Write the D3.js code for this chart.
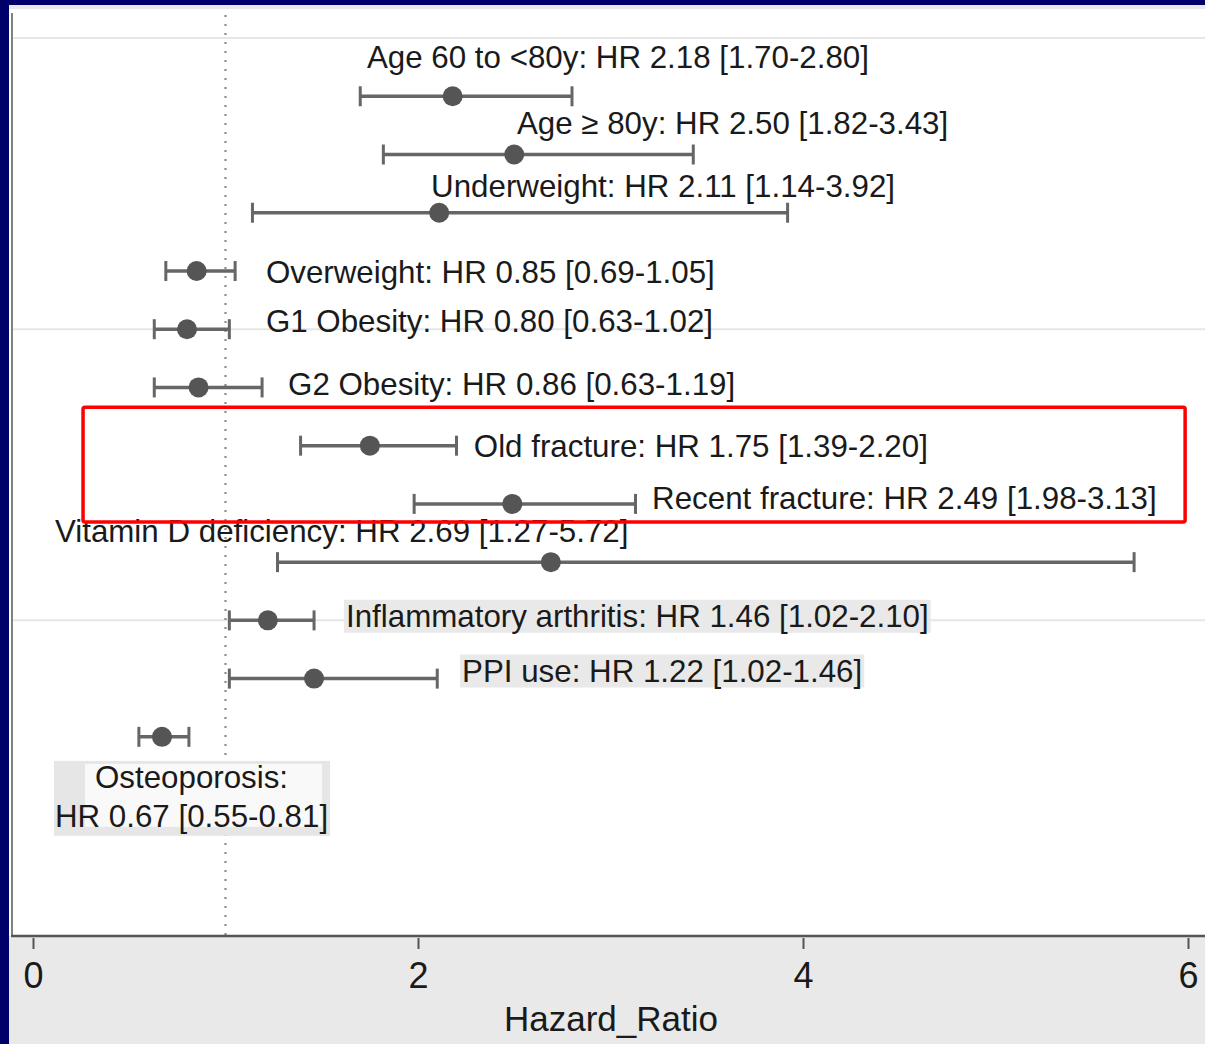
<!DOCTYPE html>
<html>
<head>
<meta charset="utf-8">
<script src="https://cdn.jsdelivr.net/npm/d3@7"></script>
<style>
  html, body { margin: 0; padding: 0; background: #00006a; }
  svg { display: block; }
  text { font-family: "Liberation Sans", Arial, Helvetica, sans-serif; fill: #1a1a1a; }
</style>
</head>
<body>
<svg id="chart" width="1205" height="1044"></svg>
<script>
// ---- data ----
const labels = [
  "Age 60 to <80y: HR 2.18 [1.70-2.80]",
  "Age \u2265 80y: HR 2.50 [1.82-3.43]",
  "Underweight: HR 2.11 [1.14-3.92]",
  "Overweight: HR 0.85 [0.69-1.05]",
  "G1 Obesity: HR 0.80 [0.63-1.02]",
  "G2 Obesity: HR 0.86 [0.63-1.19]",
  "Old fracture: HR 1.75 [1.39-2.20]",
  "Recent fracture: HR 2.49 [1.98-3.13]",
  "Vitamin D deficiency: HR 2.69 [1.27-5.72]",
  "Inflammatory arthritis: HR 1.46 [1.02-2.10]",
  "PPI use: HR 1.22 [1.02-1.46]",
  "Osteoporosis:|HR 0.67 [0.55-0.81]"
];
const rows  = [1, 2, 3, 4, 5, 6, 7, 8, 9, 10, 11, 12];
const hr    = [2.18, 2.50, 2.11, 0.85, 0.80, 0.86, 1.75, 2.49, 2.69, 1.22, 1.46, 0.67];
const ciLow = [1.70, 1.82, 1.14, 0.69, 0.63, 0.63, 1.39, 1.98, 1.27, 1.02, 1.02, 0.55];
const ciHigh= [2.80, 3.43, 3.92, 1.05, 1.02, 1.19, 2.20, 3.13, 5.72, 1.46, 2.10, 0.81];
const xTicks = [0, 2, 4, 6];
const yGrid  = [0, 5, 10];
const refLine = 1;
const xTitle = "Hazard_Ratio";
// label anchors in data units: [x value, row value of baseline]
const labelAt = [
  [1.735, 0.515], [2.514, 1.648], [2.068, 2.73], [1.21, 4.206],
  [1.21, 5.047], [1.325, 6.129], [2.29, 7.19], [3.216, 8.086],
  [0.114, 8.65], [1.626, 10.11], [2.229, 11.05], [0.322, 12.876]
];
const osteoLine2At = [0.114, 13.545];
const shadedLabels = [9, 10];   // labels drawn on a grey box
const highlightBox = { x0: 0.26, x1: 5.985, y0: 6.34, y1: 8.31 };

// ---- layout ----
const svg = d3.select("#chart");
const W = 1205, H = 1044;
const x = d3.scaleLinear().domain([0, 6]).range([33, 1188]);
const y = d3.scaleLinear().domain([-0.43, 15.42]).range([13, 936]);
const FS = 31.3;

// backgrounds
svg.append("rect").attr("x", 9).attr("y", 5).attr("width", W - 9).attr("height", H - 5).attr("fill", "#e9e9e9");
svg.append("rect").attr("x", 9).attr("y", 9).attr("width", W - 9).attr("height", 936 - 9).attr("fill", "#ffffff");

// gridlines
svg.append("g").selectAll("line").data(yGrid).join("line")
  .attr("x1", 13).attr("x2", W).attr("y1", d => y(d)).attr("y2", d => y(d))
  .attr("stroke", "#e6e6e6").attr("stroke-width", 2);

// reference line
svg.append("line").attr("x1", x(refLine)).attr("x2", x(refLine))
  .attr("y1", 15).attr("y2", 936)
  .attr("stroke", "#8c8c8c").attr("stroke-width", 2.2).attr("stroke-dasharray", "2,7");

// left axis line
svg.append("line").attr("x1", 12).attr("x2", 12).attr("y1", 13).attr("y2", 936)
  .attr("stroke", "#808080").attr("stroke-width", 2);

// x axis
const xAxis = d3.axisBottom(x).tickValues(xTicks).tickFormat(d3.format("d")).tickSize(13).tickPadding(12);
const gx = svg.append("g").attr("transform", "translate(0,936)").call(xAxis);
gx.select(".domain").attr("d", `M11,0H${W}`).attr("stroke", "#555").attr("stroke-width", 2.5);
gx.selectAll(".tick line").attr("stroke", "#555").attr("stroke-width", 2).attr("y1", 2);
gx.selectAll(".tick text").attr("font-size", 36).attr("fill", "#1a1a1a")
  .attr("font-family", "'Liberation Sans', Arial, sans-serif").attr("dy", "0.72em").attr("y", 26);

svg.append("text").attr("x", 611).attr("y", 1031).attr("text-anchor", "middle")
  .attr("font-size", 35).text(xTitle);

// shaded label boxes (drawn before text)
const labelG = svg.append("g");

// CI lines and markers
const data = rows.map((r, i) => ({ r, hr: hr[i], lo: ciLow[i], hi: ciHigh[i] }));
const marks = svg.append("g");
marks.selectAll("line.ci").data(data).join("line").attr("class", "ci")
  .attr("x1", d => x(d.lo)).attr("x2", d => x(d.hi))
  .attr("y1", d => y(d.r)).attr("y2", d => y(d.r))
  .attr("stroke", "#666").attr("stroke-width", 3.5);
marks.selectAll("line.capL").data(data).join("line").attr("class", "capL")
  .attr("x1", d => x(d.lo)).attr("x2", d => x(d.lo))
  .attr("y1", d => y(d.r) - 10).attr("y2", d => y(d.r) + 10)
  .attr("stroke", "#666").attr("stroke-width", 3);
marks.selectAll("line.capR").data(data).join("line").attr("class", "capR")
  .attr("x1", d => x(d.hi)).attr("x2", d => x(d.hi))
  .attr("y1", d => y(d.r) - 10).attr("y2", d => y(d.r) + 10)
  .attr("stroke", "#666").attr("stroke-width", 3);
marks.selectAll("circle").data(data).join("circle")
  .attr("cx", d => x(d.hr)).attr("cy", d => y(d.r)).attr("r", 10)
  .attr("fill", "#555");

// labels
labels.forEach((lab, i) => {
  const [lx, ly] = labelAt[i];
  if (lab.includes("|")) {
    const [l1, l2] = lab.split("|");
    const bx = labelG.append("rect");
    const bi = labelG.append("rect");
    labelG.append("text").attr("x", x(lx)).attr("y", y(ly)).attr("font-size", FS).text(l1);
    const t2 = labelG.append("text").attr("x", x(osteoLine2At[0])).attr("y", y(osteoLine2At[1])).attr("font-size", FS).text(l2);
    const b2 = t2.node().getBBox();
    const top = y(ly) - 27;
    bx.attr("x", b2.x - 1).attr("y", top).attr("width", b2.width + 3).attr("height", b2.y + b2.height - top + 2)
      .attr("fill", "#e6e6e6");
    bi.attr("x", b2.x + 30).attr("y", top + 3).attr("width", b2.width - 36).attr("height", b2.y + b2.height - top - 10)
      .attr("fill", "#f9f9f9");
    return;
  }
  const t = labelG.append("text").attr("x", x(lx)).attr("y", y(ly)).attr("font-size", FS).text(lab);
  if (shadedLabels.includes(i)) {
    const b = t.node().getBBox();
    labelG.insert("rect", "text").attr("x", b.x - 2).attr("y", b.y + 1).attr("width", b.width + 4).attr("height", b.height - 2)
      .attr("fill", "#e9e9e9");
  }
});

// highlight box
svg.append("rect")
  .attr("x", x(highlightBox.x0)).attr("y", y(highlightBox.y0))
  .attr("width", x(highlightBox.x1) - x(highlightBox.x0))
  .attr("height", y(highlightBox.y1) - y(highlightBox.y0))
  .attr("rx", 2).attr("fill", "none").attr("stroke", "#ff0000").attr("stroke-width", 3.5);
</script>
</body>
</html>
